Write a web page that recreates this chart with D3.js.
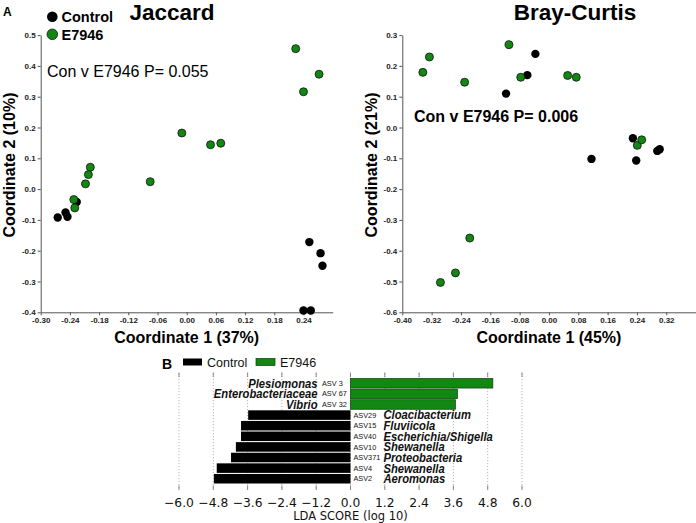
<!DOCTYPE html>
<html><head><meta charset="utf-8">
<script src="https://cdn.jsdelivr.net/npm/d3@7"></script>
<style>
html,body{margin:0;padding:0;background:#fff;}
svg{display:block;}
</style></head>
<body>
<svg id="c" width="696" height="523"></svg>
<script>
// ---------- DATA ----------
const groups = ["Control", "E7946"];

// Jaccard PCoA
const jacControlX = [-0.265, -0.249, -0.245, -0.226, 0.252, 0.275, 0.279, 0.240, 0.255];
const jacControlY = [-0.092, -0.076, -0.090, -0.042, -0.172, -0.208, -0.249, -0.394, -0.394];
const jacE7946X = [0.224, 0.272, 0.240, -0.010, 0.049, 0.070, -0.075, -0.198, -0.202, -0.208, -0.232, -0.230];
const jacE7946Y = [0.456, 0.373, 0.316, 0.182, 0.144, 0.149, 0.024, 0.071, 0.047, 0.017, -0.034, -0.061];
const jacXTicks = [-0.30, -0.24, -0.18, -0.12, -0.06, 0.00, 0.06, 0.12, 0.18, 0.24];
const jacYTicks = [-0.4, -0.3, -0.2, -0.1, 0.0, 0.1, 0.2, 0.3, 0.4, 0.5];

// Bray-Curtis PCoA
const brayControlX = [-0.037, -0.059, -0.117, 0.116, 0.229, 0.238, 0.2955, 0.302];
const brayControlY = [0.239, 0.170, 0.110, -0.102, -0.035, -0.107, -0.076, -0.0705];
const brayE7946X = [-0.344, -0.326, -0.230, -0.109, -0.077, 0.051, 0.0745, 0.241, 0.253, -0.216, -0.255, -0.296];
const brayE7946Y = [0.179, 0.229, 0.147, 0.269, 0.163, 0.169, 0.163, -0.058, -0.040, -0.359, -0.472, -0.503];
const brayXTicks = [-0.40, -0.32, -0.24, -0.16, -0.08, 0.00, 0.08, 0.16, 0.24, 0.32];
const brayYTicks = [-0.6, -0.5, -0.4, -0.3, -0.2, -0.1, 0.0, 0.1, 0.2, 0.3];

// LEfSe LDA
const ldaTaxa = ["Plesiomonas", "Enterobacteriaceae", "Vibrio", "Cloacibacterium", "Fluviicola",
  "Escherichia/Shigella", "Shewanella", "Proteobacteria", "Shewanella", "Aeromonas"];
const ldaASV = ["ASV 3", "ASV 67", "ASV 32", "ASV29", "ASV15", "ASV40", "ASV10", "ASV371", "ASV4", "ASV2"];
const ldaScore = [4.98, 3.74, 3.67, -3.58, -3.83, -3.83, -4.01, -4.18, -4.68, -4.78];
const ldaGroup = ["E7946", "E7946", "E7946", "Control", "Control", "Control", "Control", "Control", "Control", "Control"];
const ldaTicks = [-6.0, -4.8, -3.6, -2.4, -1.2, 0.0, 1.2, 2.4, 3.6, 4.8, 6.0];

// ---------- STYLE ----------
const GREEN = "#128812";
const ARIAL = "'Liberation Sans', Arial, sans-serif";
const DEJAVU = "'DejaVu Sans', sans-serif";
const color = d3.scaleOrdinal(groups, ["#000000", GREEN]);

const svg = d3.select("#c");
const hy = s => s.replace("\u2212", "-");

function pcoa(opt) {
  const x = d3.scaleLinear(opt.xDom, opt.xRange);
  const y = d3.scaleLinear(opt.yDom, [312.3, 35.1]);
  const g = svg.append("g");
  const ya = g.append("g").attr("transform", `translate(${opt.xRange[0]},0)`)
    .call(d3.axisLeft(y).tickValues(opt.yTicks).tickFormat(d => hy(d3.format(".1f")(d))).tickSize(3).tickSizeOuter(0).tickPadding(2));
  const xa = g.append("g").attr("transform", `translate(0,312.3)`)
    .call(d3.axisBottom(x).tickValues(opt.xTicks).tickFormat(d => hy(d3.format(".2f")(d))).tickSize(3).tickSizeOuter(0).tickPadding(2));
  [ya, xa].forEach(a => {
    a.selectAll("path,line").attr("stroke", "#555").attr("stroke-width", 1);
    a.selectAll("text").attr("font-family", ARIAL).attr("font-weight", "bold").attr("font-size", 8).attr("fill", "#222");
  });
  const ctrl = opt.cx.map((v, i) => [v, opt.cy[i]]);
  const e = opt.ex.map((v, i) => [v, opt.ey[i]]);
  g.selectAll(".c").data(ctrl).join("circle")
    .attr("cx", d => x(d[0])).attr("cy", d => y(d[1])).attr("r", 4.2).attr("fill", color("Control"));
  g.selectAll(".e").data(e).join("circle")
    .attr("cx", d => x(d[0])).attr("cy", d => y(d[1])).attr("r", 4).attr("fill", color("E7946"))
    .attr("stroke", "#111").attr("stroke-width", 0.8);
  g.append("text").attr("x", opt.titleX).attr("y", 19.5).attr("text-anchor", "middle")
    .attr("font-family", ARIAL).attr("font-weight", "bold").attr("font-size", 22.5).text(opt.title);
  g.append("text").attr("x", (opt.xRange[0] + opt.xRange[1]) / 2).attr("y", 343).attr("text-anchor", "middle")
    .attr("font-family", ARIAL).attr("font-weight", "bold").attr("font-size", 16).text(opt.xLabel);
  g.append("text").attr("transform", `translate(${opt.yLabelX},165) rotate(-90)`).attr("text-anchor", "middle")
    .attr("font-family", ARIAL).attr("font-weight", "bold").attr("font-size", 16).text(opt.yLabel);
  g.append("text").attr("x", opt.pX).attr("y", opt.pY)
    .attr("font-family", ARIAL).attr("font-weight", opt.pBold ? "bold" : "normal").attr("font-size", 16).text(opt.pText);
}

pcoa({xDom: [-0.30, 0.30], xRange: [40.7, 332.7], yDom: [-0.4, 0.5], xTicks: jacXTicks, yTicks: jacYTicks,
  cx: jacControlX, cy: jacControlY, ex: jacE7946X, ey: jacE7946Y,
  title: "Jaccard", titleX: 172, xLabel: "Coordinate 1 (37%)", yLabel: "Coordinate 2 (10%)", yLabelX: 15,
  pText: "Con v E7946 P= 0.055", pX: 47, pY: 77, pBold: false});
pcoa({xDom: [-0.40, 0.40], xRange: [402.3, 695.6], yDom: [-0.6, 0.3], xTicks: brayXTicks, yTicks: brayYTicks,
  cx: brayControlX, cy: brayControlY, ex: brayE7946X, ey: brayE7946Y,
  title: "Bray-Curtis", titleX: 575, xLabel: "Coordinate 1 (45%)", yLabel: "Coordinate 2 (21%)", yLabelX: 376.5,
  pText: "Con v E7946 P= 0.006", pX: 414, pY: 122, pBold: true});

svg.append("text").attr("x", 3).attr("y", 15.5).attr("font-family", ARIAL).attr("font-weight", "bold")
  .attr("font-size", 12).text("A");
const legA = svg.append("g");
groups.forEach((gname, i) => {
  const yy = 16.7 + i * 17.6;
  legA.append("circle").attr("cx", 52.3).attr("cy", yy).attr("r", 5.3).attr("fill", color(gname))
    .attr("stroke", gname === "E7946" ? "#111" : "none").attr("stroke-width", 0.8);
  legA.append("text").attr("x", 61.5).attr("y", yy + 5.5).attr("font-family", ARIAL).attr("font-weight", "bold")
    .attr("font-size", 14.5).text(gname);
});

// ---------- Panel B: LDA ----------
const xB = d3.scaleLinear([-6, 6], [179, 522]);
const yB = d3.scaleBand(d3.range(ldaTaxa.length), [378.5, 483.5]).paddingInner(0.1);
const gB = svg.append("g");
ldaTicks.forEach(t => {
  gB.append("line").attr("x1", xB(t)).attr("x2", xB(t)).attr("y1", 373).attr("y2", 490)
    .attr("stroke", "#b5b5b5").attr("stroke-width", 1).attr("stroke-dasharray", "1.2,1.8");
  gB.append("line").attr("x1", xB(t)).attr("x2", xB(t)).attr("y1", 372.5).attr("y2", 377)
    .attr("stroke", "#888").attr("stroke-width", 1);
  gB.append("line").attr("x1", xB(t)).attr("x2", xB(t)).attr("y1", 485.5).attr("y2", 490)
    .attr("stroke", "#888").attr("stroke-width", 1);
});
gB.selectAll("text.tick").data(ldaTicks).join("text")
  .attr("x", d => xB(d)).attr("y", 506.5).attr("text-anchor", "middle")
  .attr("font-family", DEJAVU).attr("font-size", 12.3).attr("fill", "#111")
  .text(d => d3.format(".1f")(d));
gB.append("text").attr("x", xB(0)).attr("y", 519.5).attr("text-anchor", "middle")
  .attr("font-family", DEJAVU).attr("font-size", 11.5).attr("fill", "#111").text("LDA SCORE (log 10)");
gB.selectAll("rect.bar").data(ldaScore).join("rect")
  .attr("x", d => xB(Math.min(0, d))).attr("width", d => Math.abs(xB(d) - xB(0)))
  .attr("y", (d, i) => yB(i)).attr("height", yB.bandwidth())
  .attr("fill", (d, i) => color(ldaGroup[i]))
  .attr("stroke", (d, i) => ldaGroup[i] === "E7946" ? "#0b3d0b" : "none").attr("stroke-width", 0.7);
ldaTaxa.forEach((name, i) => {
  const cy = yB(i) + yB.bandwidth() / 2;
  const neg = ldaScore[i] < 0;
  if (neg) {
    gB.append("text").attr("x", 353.5).attr("y", cy + 2.6).attr("font-family", ARIAL).attr("font-size", 7.3)
      .attr("fill", "#111").text(ldaASV[i]);
    gB.append("g").attr("transform", `translate(383.5,${cy + 4.4}) scale(0.9,1)`)
      .append("text").attr("font-family", ARIAL).attr("font-weight", "bold").attr("font-style", "italic")
      .attr("font-size", 12.5).attr("fill", "#111").text(name);
  } else {
    gB.append("text").attr("x", 322).attr("y", cy + 2.6).attr("font-family", ARIAL).attr("font-size", 7.3)
      .attr("fill", "#111").text(ldaASV[i]);
    gB.append("g").attr("transform", `translate(317.5,${cy + 4.4}) scale(0.9,1)`)
      .append("text").attr("text-anchor", "end").attr("font-family", ARIAL).attr("font-weight", "bold")
      .attr("font-style", "italic").attr("font-size", 12.5).attr("fill", "#111").text(name);
  }
});
svg.append("text").attr("x", 162).attr("y", 368.5).attr("font-family", ARIAL).attr("font-weight", "bold")
  .attr("font-size", 14).text("B");
const legBx = [183, 256];
groups.forEach((gname, i) => {
  svg.append("rect").attr("x", legBx[i]).attr("y", 358.5).attr("width", 19).attr("height", 7)
    .attr("fill", color(gname)).attr("stroke", gname === "E7946" ? "#0b3d0b" : "none").attr("stroke-width", 0.7);
  svg.append("text").attr("x", legBx[i] + 24).attr("y", 367).attr("font-family", ARIAL)
    .attr("font-size", 12.5).attr("fill", "#111").text(gname);
});
</script>
</body></html>
